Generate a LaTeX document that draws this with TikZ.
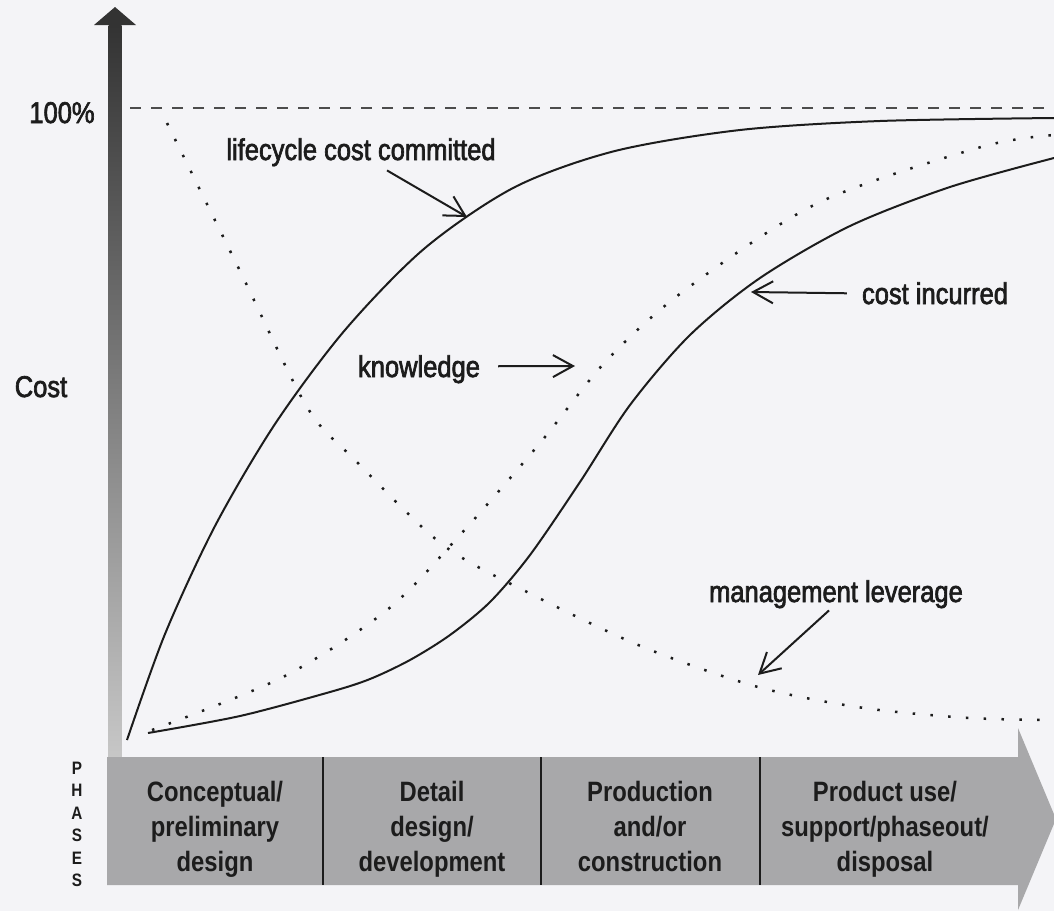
\documentclass[tikz,border=0pt]{standalone}
\usepackage{fontspec}
\setmainfont{Liberation Sans}[FakeStretch=0.85]
\newfontfamily\lblfont{Liberation Sans}[FakeStretch=0.85,FakeBold=2.2]
\usetikzlibrary{arrows.meta,positioning}
\definecolor{paper}{RGB}{244,244,247}
\definecolor{phasegray}{RGB}{168,168,170}
\definecolor{ink}{RGB}{28,28,28}

\begin{document}
\begin{tikzpicture}[x=1pt,y=-1pt]

  \tikzstyle{every node}=[font=\lblfont\fontsize{30}{36}\selectfont,inner sep=0pt,text=ink]
  \tikzstyle{curve}=[line width=2pt,ink]
  \tikzstyle{dots}=[line width=2.5pt,ink,dash pattern=on 2.5pt off 15.3pt]
  \tikzstyle{callout}=[-{Straight Barb[length=20pt,width=22pt]},line width=2pt,ink]
  \tikzstyle{phase}=[font=\fontsize{28}{35}\selectfont\bfseries,align=center,anchor=north]

  \fill[paper] (0,0) rectangle (1054,911);
  \useasboundingbox (0,0) rectangle (1054,911);

  % axes
  \shade[top color=black!80,bottom color=black!22] (108.5,25) rectangle (121.5,757);
  \fill[black!80] (94,25) -- (115,7) -- (136,25) -- cycle;
  \fill[phasegray] (107,757) -- (1018,757) -- (1018,728) -- (1056,819)
    -- (1018,910) -- (1018,885) -- (107,885) -- cycle;
  \foreach \x in {323,541,760}
    \draw[line width=2pt,ink] (\x,757) -- (\x,885);
  \draw[line width=2pt,black!70,dash pattern=on 11pt off 10pt] (130,108) -- (1054,108);

  \node[anchor=base] (pct) at (62,123) {100\%};
  \node[anchor=base] (costax) at (41,397) {Cost};
  \node[font=\fontsize{18}{22.4}\selectfont\bfseries,align=center,anchor=north] (phases) at (77,762)
    {P\\H\\A\\S\\E\\S};

  \node[phase] (concept) at (215,781) {Conceptual/\\preliminary\\design};
  \node[phase] (detail) at (432,781) {Detail\\design/\\development};
  \node[phase] (prod) at (650,781) {Production\\and/or\\construction};
  \node[phase] (use) at (885,781) {Product use/\\support/phaseout/\\disposal};

  % curves
  \draw[curve] plot[smooth] coordinates {(127,740) (165,634) (215,526) (275,424) (345,330)
    (425,248) (515,187) (615,151) (740,130) (880,121) (1054,118)};
  \draw[curve] plot[smooth] coordinates {(148,733) (240,716) (330,692) (370,679) (410,660)
    (450,635) (490,602) (530,555) (580,482) (630,405) (690,335) (760,278) (850,226)
    (950,187) (1054,158)};
  \draw[dots] plot[smooth] coordinates {(152,730) (283,677) (387,610) (460,535)
    (540,443) (607,360) (685,290) (818,203) (981,147) (1054,135)};
  \draw[dots] plot[smooth] coordinates {(167,123) (240,271) (307,407) (355,460)
    (443,545) (533,595) (643,647) (758,687) (864,708) (970,718) (1054,720)};

  \node[anchor=base] (lcc) at (361,160) {lifecycle cost committed};
  \node[anchor=base] (know) at (419,377) {knowledge};
  \node[anchor=base] (incur) at (935,304) {cost incurred};
  \node[anchor=base] (mgmt) at (836,602) {management leverage};

  \coordinate (lccTip) at (467,217);
  \coordinate (knowTip) at (575,366);
  \coordinate (incurTip) at (751,292);
  \coordinate (mgmtTip) at (758,675);

  \draw[callout] ([xshift=26pt,yshift=-4pt]lcc.south) -- (lccTip);
  \draw[callout] ([xshift=18pt,yshift=3pt]know.east) -- (knowTip);
  \draw[callout] ([xshift=-15pt]incur.west) -- (incurTip);
  \draw[callout] ([xshift=-7pt,yshift=-2pt]mgmt.south) -- (mgmtTip);

\end{tikzpicture}
\end{document}
